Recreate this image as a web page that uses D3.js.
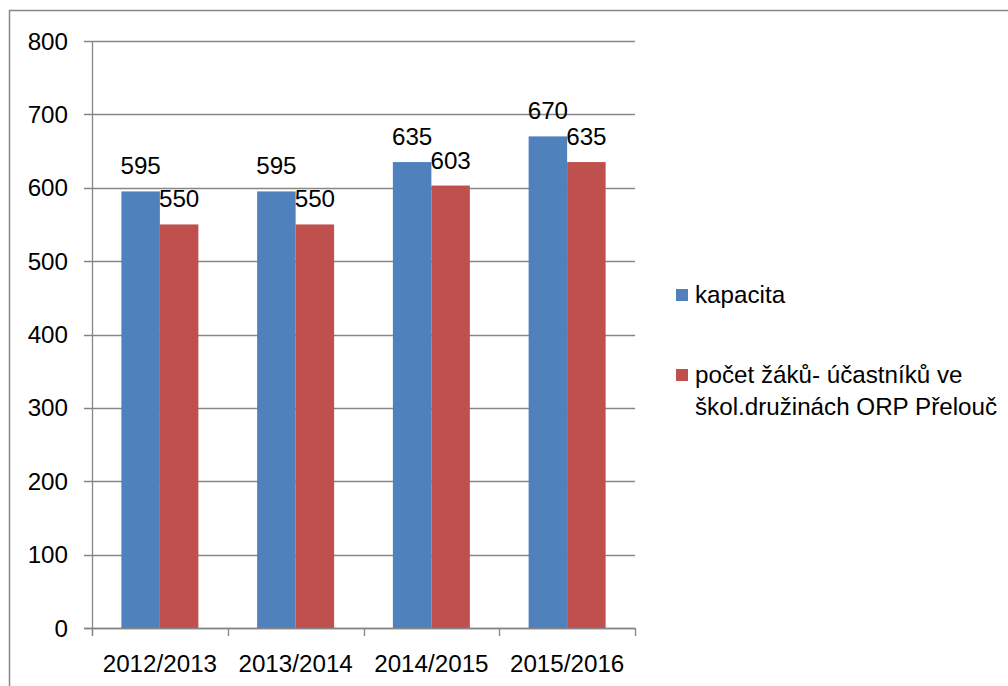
<!DOCTYPE html>
<html><head><meta charset="utf-8">
<script src="https://cdn.jsdelivr.net/npm/d3@7"></script>
<style>body{margin:0;background:#fff}svg{display:block}text{font-family:"Liberation Sans",Arial,sans-serif;fill:#000}</style>
</head><body><svg id="c" width="1008" height="686"></svg>
<script>
const categories = ["2012/2013","2013/2014","2014/2015","2015/2016"];
const seriesNames = ["kapacita","počet žáků- účastníků ve škol.družinách ORP Přelouč"];
const kapacita = [595,595,635,670];
const pocet = [550,550,603,635];
const yTicks = [0,100,200,300,400,500,600,700,800];
const colors = ["#4F81BD","#C0504D"];
const values = [kapacita, pocet];

const svg = d3.select("#c");
const fs = 24.2;
svg.append("rect").attr("x",9.5).attr("y",10.5).attr("width",1010).attr("height",700)
  .attr("fill","#fff").attr("stroke","#868686").attr("stroke-width",1.5);

const L=92,R=635,T=41,B=628;
const x = d3.scaleBand().domain(categories).range([L,R]).padding(0);
const xs = d3.scaleBand().domain([0,1]).range([0,x.bandwidth()]).paddingInner(0).paddingOuter(0.763);
const y = d3.scaleLinear().domain([0,800]).range([B,T]);

// gridlines
svg.append("g").selectAll("line").data(yTicks).join("line")
  .attr("x1",L-8).attr("x2",R).attr("y1",d=>Math.round(y(d))+0.5).attr("y2",d=>Math.round(y(d))+0.5)
  .attr("stroke","#868686").attr("stroke-width",1.3);

// bars
categories.forEach((c,i)=>{
  values.forEach((vals,s)=>{
    svg.append("rect").attr("x",x(c)+xs(s)).attr("y",y(vals[i]))
      .attr("width",xs.bandwidth()).attr("height",B-y(vals[i])).attr("fill",colors[s]);
  });
});

// axes lines
svg.append("line").attr("x1",L+0.5).attr("x2",L+0.5).attr("y1",T).attr("y2",B+8).attr("stroke","#868686").attr("stroke-width",1.3);
svg.append("line").attr("x1",L-8).attr("x2",R).attr("y1",B+0.5).attr("y2",B+0.5).attr("stroke","#868686").attr("stroke-width",1.3);
const bounds = categories.map(c=>x(c)).concat([R]);
svg.append("g").selectAll("line").data(bounds).join("line")
  .attr("x1",d=>Math.round(d)+0.5).attr("x2",d=>Math.round(d)+0.5).attr("y1",B).attr("y2",B+8)
  .attr("stroke","#868686").attr("stroke-width",1.3);

// y tick labels
svg.append("g").selectAll("text").data(yTicks).join("text")
  .attr("x",68).attr("y",d=>y(d)+8.5).attr("text-anchor","end").attr("font-size",fs).text(d=>d);
// x labels
svg.append("g").selectAll("text").data(categories).join("text")
  .attr("x",d=>x(d)+x.bandwidth()/2).attr("y",672).attr("text-anchor","middle").attr("font-size",fs).text(d=>d);

// data labels
categories.forEach((c,i)=>{
  values.forEach((vals,s)=>{
    svg.append("text").attr("x",x(c)+xs(s)+xs.bandwidth()/2).attr("y",y(vals[i])-17)
      .attr("text-anchor","middle").attr("font-size",fs).text(vals[i]);
  });
});

// legend
const lg = svg.append("g");
lg.append("rect").attr("x",676).attr("y",289).attr("width",12).attr("height",12).attr("fill",colors[0]);
lg.append("text").attr("x",695).attr("y",303).attr("font-size",fs).text(seriesNames[0]);
lg.append("rect").attr("x",676).attr("y",369).attr("width",12).attr("height",12).attr("fill",colors[1]);
lg.append("text").attr("x",695).attr("y",383).attr("font-size",fs).text("počet žáků- účastníků ve");
lg.append("text").attr("x",695).attr("y",415).attr("font-size",fs).text("škol.družinách ORP Přelouč");
</script></body></html>
